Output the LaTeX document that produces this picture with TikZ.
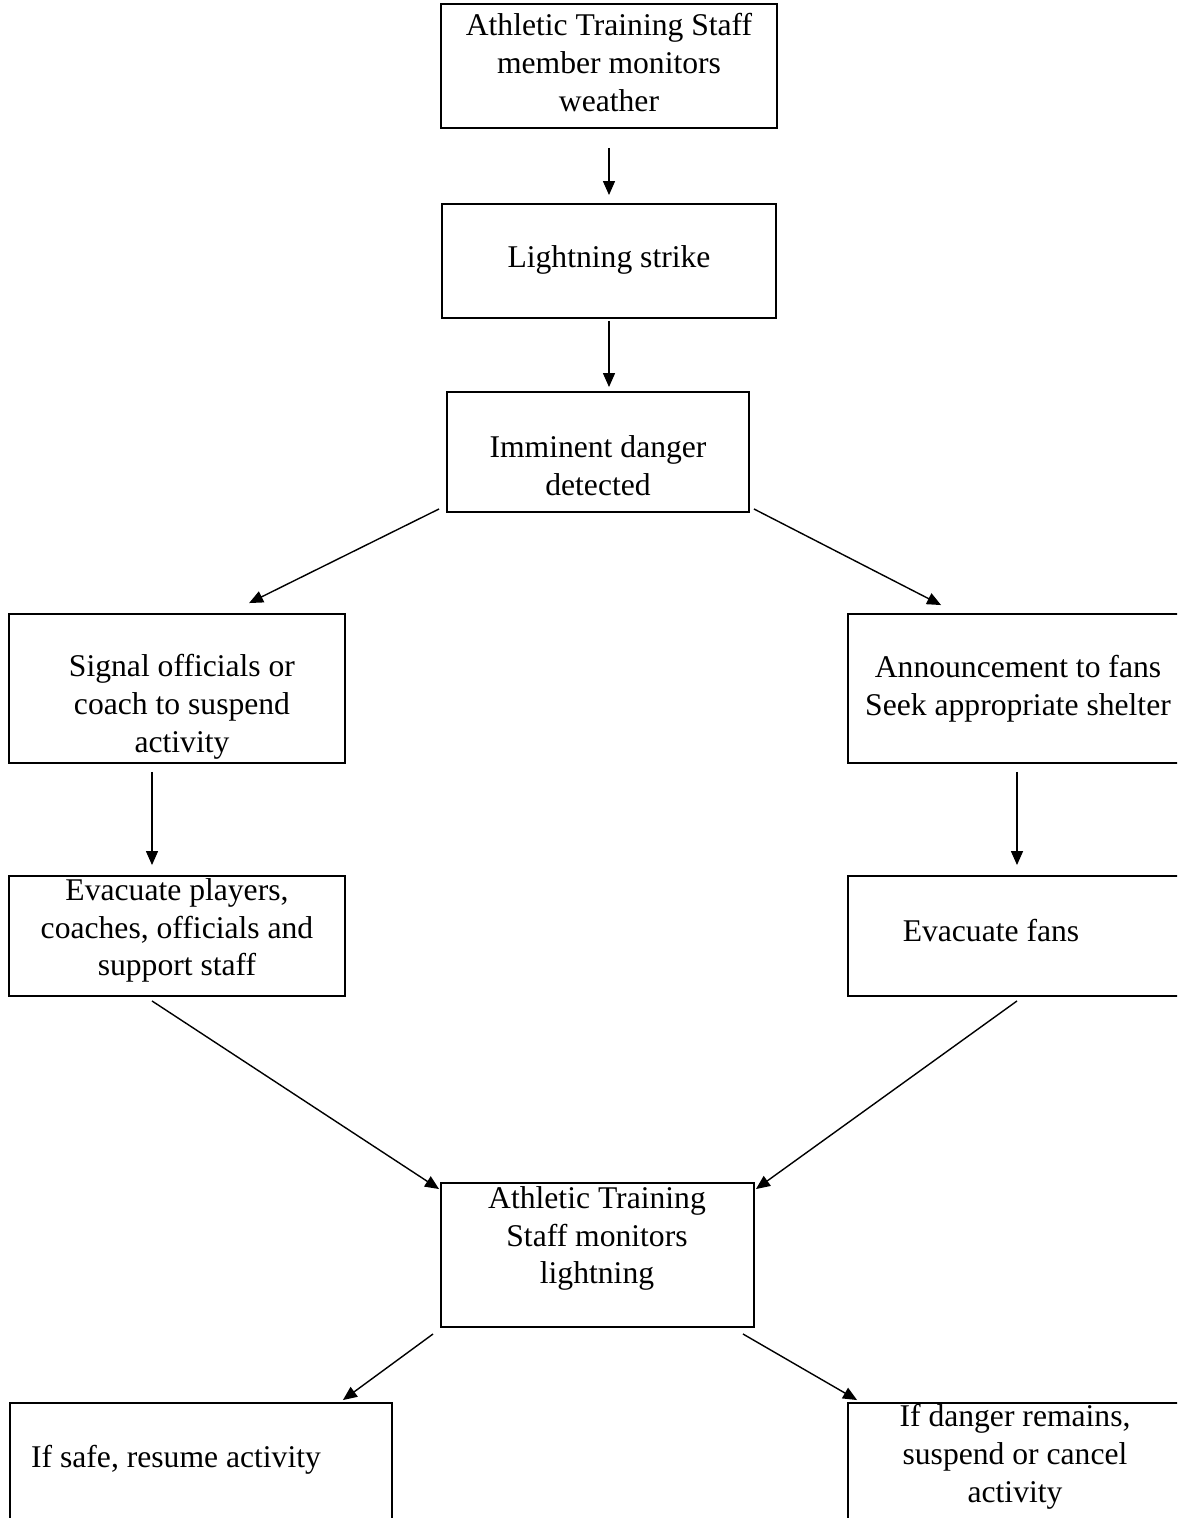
\documentclass[tikz,border=0pt]{standalone}
\usepackage{fontspec}
\setmainfont{Liberation Serif}
\usepackage{tikz}
\usetikzlibrary{calc, arrows.meta, positioning}
\tikzset{
	flownode/.style={
			shape=rectangle,
			draw=black,
			line width=1.1pt,
			fill=white,
			inner sep=0pt
		},
	flowtext/.style={
			align=center,
			inner sep=0pt,
			font=\fontsize{18}{21.5}\selectfont
		},
	flowarrow/.style={
			line width=0.8pt,
			-{Triangle[length=0.28cm,width=0.24cm]}
		}
}

\begin{document}
\begin{tikzpicture}[x=0.02cm, y=-0.02cm]

  \useasboundingbox (0,0) rectangle (1177,1518);
  \clip (0,0) rectangle (1177,1518);

  \node[flownode, minimum width=6.72cm, minimum height=2.48cm] (watch) at (609,66) {};
  \node[flownode, minimum width=6.68cm, minimum height=2.28cm] (strike) at (609,261) {};
  \node[flownode, minimum width=6.04cm, minimum height=2.40cm] (danger) at (598,452) {};
  \node[flownode, minimum width=6.72cm, minimum height=2.98cm] (signal) at (177,688.5) {};
  \node[flownode, minimum width=6.84cm, minimum height=2.98cm] (announce) at (1019,688.5) {};
  \node[flownode, minimum width=6.72cm, minimum height=2.40cm] (evplayers) at (177,936) {};
  \node[flownode, minimum width=6.84cm, minimum height=2.40cm] (evfans) at (1019,936) {};
  \node[flownode, minimum width=6.26cm, minimum height=2.88cm] (monitor) at (597.5,1255) {};
  \node[flownode, minimum width=7.64cm, minimum height=2.54cm] (resume) at (201,1466.5) {};
  \node[flownode, minimum width=6.84cm, minimum height=2.54cm] (cancel) at (1019,1466.5) {};

  \node[flowtext] at (609,62.5) {Athletic Training Staff\\member monitors\\weather};
  \node[flowtext] at (609,260) {Lightning strike};
  \node[flowtext] at (598,465.5) {Imminent danger\\detected};
  \node[flowtext] at (182,707) {Signal officials or\\coach to suspend\\activity};
  \node[flowtext] at (1018,688.5) {Announcement to fans\\Seek appropriate shelter};
  \node[flowtext] at (177,930.5) {Evacuate players,\\coaches, officials and\\support staff};
  \node[flowtext] at (991,931) {Evacuate fans};
  \node[flowtext] at (597,1238.5) {Athletic Training\\Staff monitors\\lightning};
  \node[flowtext] at (176,1460) {If safe, resume activity};
  \node[flowtext] at (1015,1457) {If danger remains,\\suspend or cancel\\activity};

  \draw[flowarrow] ($(watch.south)+(0,19)$) -- ($(strike.north)+(0,-8)$);
  \draw[flowarrow] ($(strike.south)+(0,2)$) -- ($(strike.south |- danger.north)+(0,-4)$);
  \draw[flowarrow] ($(danger.south west)+(-7,-4)$) -- ($(signal.north west)+(241,-10)$);
  \draw[flowarrow] ($(danger.south east)+(4,-4)$) -- ($(announce.north west)+(94,-8)$);
  \draw[flowarrow] ($(signal.south)+(-25,8)$) -- ($(evplayers.north)+(-25,-10)$);
  \draw[flowarrow] ($(announce.south)+(-2,8)$) -- ($(evfans.north)+(-2,-10)$);
  \draw[flowarrow] ($(evplayers.south)+(-25,4)$) -- ($(monitor.north west)+(-1,7)$);
  \draw[flowarrow] ($(evfans.south)+(-2,4)$) -- ($(monitor.north east)+(1,7)$);
  \draw[flowarrow] ($(monitor.south west)+(-7,6)$) -- ($(resume.north east)+(-50,-2)$);
  \draw[flowarrow] ($(monitor.south east)+(-12,6)$) -- ($(cancel.north west)+(10,-2)$);

\end{tikzpicture}
\end{document}
